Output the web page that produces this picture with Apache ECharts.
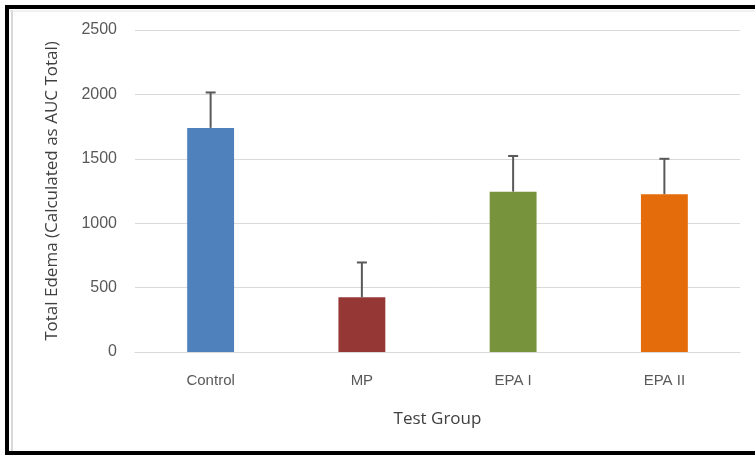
<!DOCTYPE html>
<html>
<head>
<meta charset="utf-8">
<script src="https://cdn.jsdelivr.net/npm/echarts@6/dist/echarts.min.js"></script>
<style>
html,body{margin:0;padding:0;background:#fff;}
#c{width:755px;height:455px;}
</style>
</head>
<body>
<div id="c"></div>
<script>
const categories = ['Control', 'MP', 'EPA I', 'EPA II'];
const means = [1740, 425, 1245, 1225];
const upper = [2015, 695, 1522, 1500];
const colors = ['#4F81BD', '#953735', '#77933C', '#E46C0A'];
const yTicks = {min: 0, max: 2500, interval: 500};

const chart = echarts.init(document.getElementById('c'), null, {renderer: 'canvas'});
const font = '"Liberation Sans", Arial, sans-serif';
chart.setOption({
  animation: false,
  backgroundColor: '#fff',
  grid: {left: 135, right: 15, top: 30, bottom: 103},
  graphic: [
    {type: 'rect', shape: {x: 7, y: 7, width: 760, height: 446}, style: {fill: 'none', stroke: '#000', lineWidth: 4}, z: 100},
    {type: 'line', shape: {x1: 12, y1: 10, x2: 12, y2: 451}, style: {stroke: '#d8d8d8', lineWidth: 2}, z: 100},
    {type: 'line', shape: {x1: 10, y1: 11, x2: 755, y2: 11}, style: {stroke: '#e4e4e4', lineWidth: 1}, z: 100}
  ],
  xAxis: {
    type: 'category',
    data: categories,
    name: 'Test Group',
    nameLocation: 'middle',
    nameGap: 59,
    nameTextStyle: {fontFamily: '"Open Sans", sans-serif', fontSize: 17, color: '#404040'},
    axisLine: {lineStyle: {color: '#d9d9d9'}},
    axisTick: {show: false},
    axisLabel: {fontFamily: font, fontSize: 15, color: '#595959', margin: 21}
  },
  yAxis: {
    type: 'value',
    min: yTicks.min, max: yTicks.max, interval: yTicks.interval,
    name: 'Total Edema (Calculated as AUC Total)',
    nameLocation: 'middle',
    nameGap: 74,
    nameTextStyle: {fontFamily: '"Open Sans", sans-serif', fontSize: 17, color: '#404040'},
    axisLine: {show: false},
    axisTick: {show: false},
    splitLine: {lineStyle: {color: '#d9d9d9'}},
    axisLabel: {fontFamily: font, fontSize: 16, color: '#595959', margin: 18, formatter: v => String(v)}
  },
  series: [
    {
      type: 'bar',
      data: means.map((v, i) => ({value: v, itemStyle: {color: colors[i]}})),
      barWidth: '31%'
    },
    {
      type: 'custom',
      data: categories.map((c, i) => [i, means[i], upper[i]]),
      renderItem: function (params, api) {
        const p0 = api.coord([api.value(0), api.value(1)]);
        const p1 = api.coord([api.value(0), api.value(2)]);
        return {
          type: 'group',
          children: [
            {type: 'line', shape: {x1: p0[0], y1: p0[1], x2: p1[0], y2: p1[1]}, style: {stroke: '#595959', lineWidth: 2}},
            {type: 'line', shape: {x1: p1[0] - 5, y1: p1[1], x2: p1[0] + 5, y2: p1[1]}, style: {stroke: '#595959', lineWidth: 2}}
          ]
        };
      },
      z: 3
    }
  ]
});
</script>
</body>
</html>
